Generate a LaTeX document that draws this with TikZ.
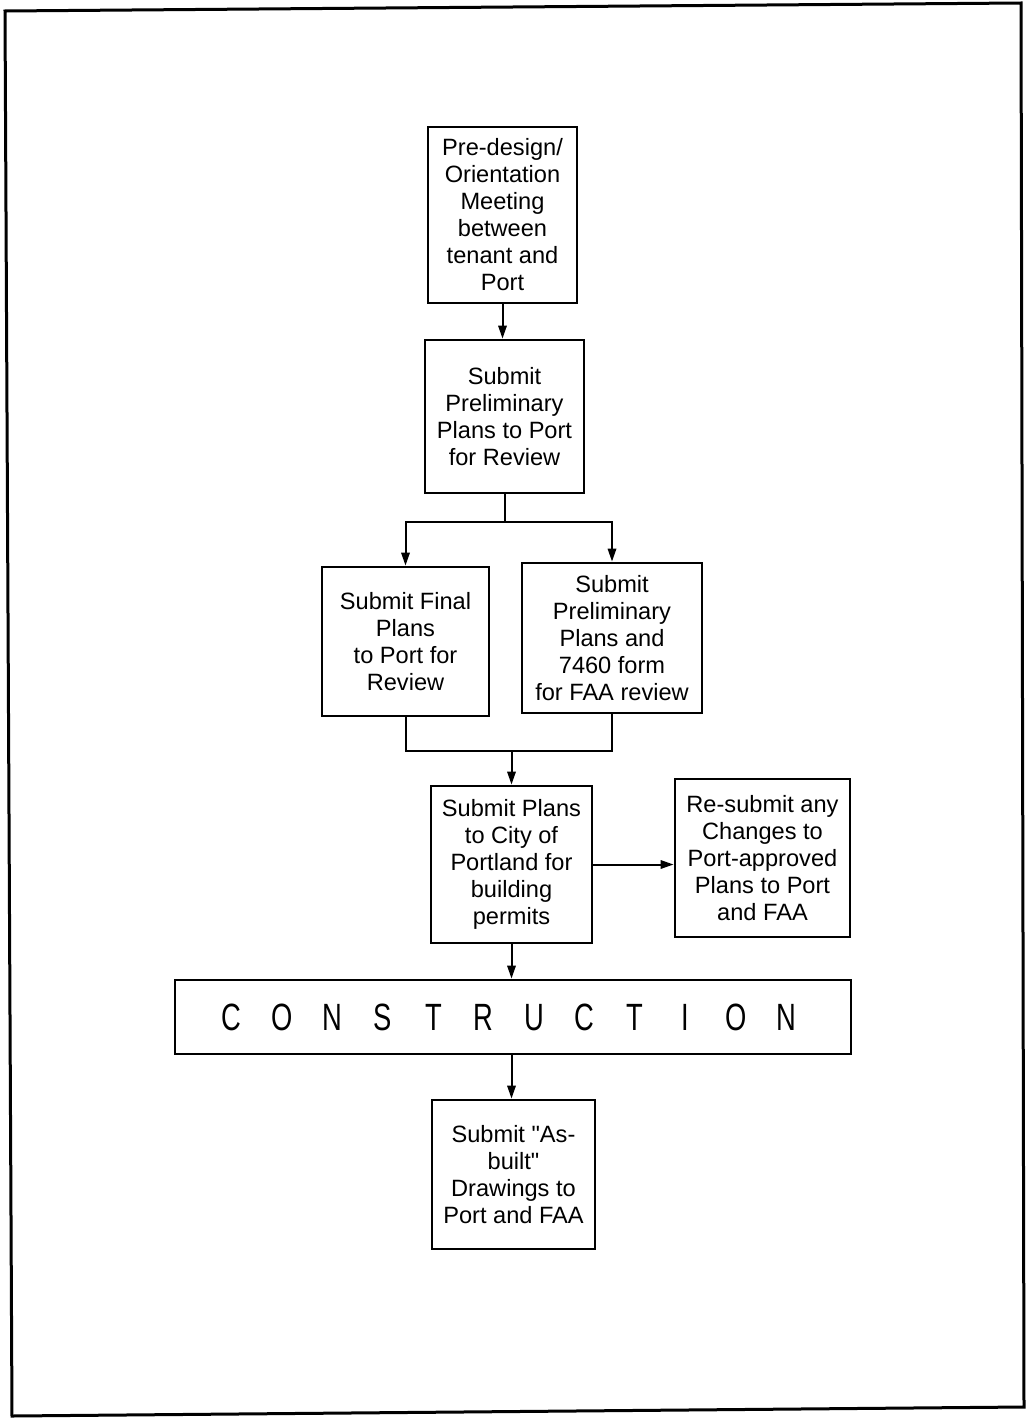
\documentclass[tikz,border=0pt]{standalone}
\usepackage{fontspec}
\setmainfont{Liberation Sans}[Ligatures=TeXOff]
\newfontfamily\condfont[FakeStretch=0.72]{Liberation Sans}
\usetikzlibrary{arrows.meta}
\tikzset{
  box/.style={draw, line width=1.4pt, inner sep=0pt, align=center,
    font=\fontsize{11.8}{13.5}\selectfont},
  conn/.style={line width=1pt},
  arr/.style={line width=1pt, -{Triangle[length=6.5pt,width=4.2pt]}},
  frame/.style={line width=1.5pt}
}
\newcommand{\lsp}[1]{\makebox[25.2pt]{#1}}
\begin{document}
\begin{tikzpicture}[x=0.5pt,y=-0.5pt]
\useasboundingbox (0,0) rectangle (1026,1418);
% outer frame
\draw[frame] (5,11) -- (1021,3) -- (1024,1407) -- (12,1416) -- cycle;

\node[box, minimum width=74.5pt, minimum height=88pt] (b1) at (502.5,215) {Pre-design/\\Orientation\\Meeting\\between\\tenant and\\Port};
\node[box, minimum width=79.5pt, minimum height=76.5pt] (b2) at (504.5,416.5) {Submit\\Preliminary\\Plans to Port\\for Review};
\node[box, minimum width=83.5pt, minimum height=74.5pt] (b3) at (405.5,641.5) {Submit Final\\Plans\\to Port for\\Review};
\node[box, minimum width=90pt, minimum height=75pt] (b4) at (612,638) {Submit\\Preliminary\\Plans and\\7460 form\\for FAA review};
\node[box, minimum width=80.5pt, minimum height=78.5pt] (b5) at (511.5,864.5) {Submit Plans\\to City of\\Portland for\\building\\permits};
\node[box, minimum width=87.5pt, minimum height=79pt] (b6) at (762.5,858) {Re-submit any\\Changes to\\Port-approved\\Plans to Port\\and FAA};
\node[box, minimum width=338pt, minimum height=37pt, font=\condfont\fontsize{19}{20}\selectfont] (c) at (513,1017) {\hspace*{-4pt}\lsp{C}\lsp{O}\lsp{N}\lsp{S}\lsp{T}\lsp{R}\lsp{U}\lsp{C}\lsp{T}\lsp{I}\lsp{O}\lsp{N}};
\node[box, minimum width=81.5pt, minimum height=74.5pt] (b7) at (513.5,1174.5) {Submit "As-\\built"\\Drawings to\\Port and FAA};

\draw[arr] (b1.south) -- (b1.south |- b2.north);
\coordinate (split) at (505,522);
\draw[conn] (b2.south -| split) -- (split);
\draw[arr] (split) -| (b3.north);
\draw[arr] (split) -| (b4.north);
\coordinate (join) at (511.5,751);
\draw[conn] (b3.south) |- (join) -| (b4.south);
\draw[arr] (join) -- (b5.north);
\draw[arr] (b5.east) -- (b5.east -| b6.west);
\draw[arr] (b5.south) -- (b5.south |- c.north);
\draw[arr] (c.south -| b5.south) -- (b7.north -| b5.south);
\end{tikzpicture}
\end{document}
